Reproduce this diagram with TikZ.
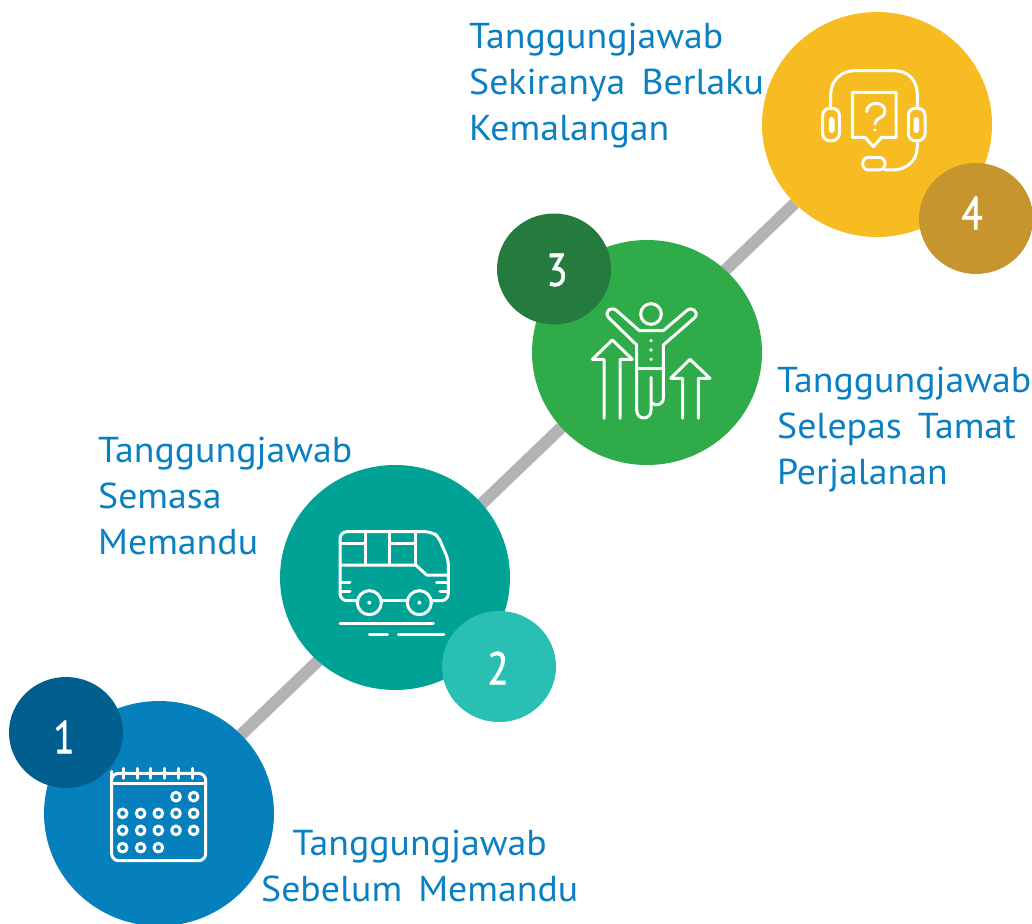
\documentclass[tikz,border=0pt]{standalone}
\usepackage{fontspec}
\usetikzlibrary{shapes.geometric,backgrounds}
\setmainfont[FakeStretch=1.05,WordSpace=1.6]{PT Sans}
\newfontfamily\numfont[FakeStretch=0.85,FakeBold=1.2]{PT Sans}
\definecolor{txtblue}{HTML}{0A7FC2}
\definecolor{cA}{HTML}{0680BC}\definecolor{bA}{HTML}{005F8F}
\definecolor{cB}{HTML}{00A295}\definecolor{bB}{HTML}{2ABFB3}
\definecolor{cC}{HTML}{2FAB4A}\definecolor{bC}{HTML}{257B3D}
\definecolor{cD}{HTML}{F6BC22}\definecolor{bD}{HTML}{C6952D}
\definecolor{linkgray}{HTML}{B3B3B3}
\tikzset{
  bigcirc/.style={ellipse,inner sep=0pt,minimum width=230pt,minimum height=225pt,fill=#1},
  badge/.style={ellipse,inner sep=0pt,minimum width=114pt,minimum height=111pt,fill=#1},
  numtext/.style={inner sep=0pt,text=white,font=\numfont\fontsize{46}{46}\selectfont},
  label/.style={inner sep=0pt,anchor=north west,align=left,text=txtblue,font=\fontsize{36}{46}\selectfont},
  link/.style={draw=linkgray,line width=12pt},
  ico/.style={draw=white,line width=3pt,line cap=round,line join=round},
  dotw/.style={fill=white,draw=none},
  iconbox/.style={x=0.3333pt,y=-0.3333pt}
}
\begin{document}
\begin{tikzpicture}[x=1pt,y=-1pt]
\useasboundingbox (0,0) rectangle (1032,923);
\clip (0,0) rectangle (1032,923);
\node[bigcirc=cA] (c1) at (159,813.5) {};
\node[bigcirc=cB] (c2) at (395,577.5) {};
\node[bigcirc=cC] (c3) at (647,352.5) {};
\node[bigcirc=cD] (c4) at (877,124.5) {};
\begin{scope}[on background layer]
\draw[link] (c1) -- (c4);
\end{scope}
\node[badge=bA] (b1) at (66,732.5) {};
\node[badge=bB] (b2) at (499,666.5) {};
\node[badge=bC] (b3) at (554,269) {};
\node[badge=bD] (b4) at (976,218.5) {};
\node[numtext] (n1) at (64,737) {1};
\node[numtext] (n2) at (498,668) {2};
\node[numtext] (n3) at (557,270) {3};
\node[numtext] (n4) at (972,213) {4};
\node[label] (t4) at (469,23) {Tanggungjawab\\Sekiranya Berlaku\\Kemalangan};
\node[label] (t3) at (777,367) {Tanggungjawab\\Selepas Tamat\\Perjalanan};
\node[label] (t2) at (98,437) {Tanggungjawab\\Semasa\\Memandu};
\node[label,align=center] (t1) at (261,830) {Tanggungjawab\\Sebelum Memandu};
% calendar
\begin{scope}[shift={(90,750)},iconbox]
\draw[ico] (65,85) [rounded corners=7pt] -- (65,70) -- (347,70) -- (347,332) -- (65,332) -- cycle;
\draw[ico] (65,100) -- (347,100);
\foreach \x in {100,142,183,225,267,308} \draw[ico] (\x,55) -- (\x,85);
\foreach \x in {258,311} \draw[ico] (\x,140) circle (13);
\foreach \x in {98,152,205,258,311} {\draw[ico] (\x,190) circle (13); \draw[ico] (\x,241) circle (13);}
\foreach \x in {98,152,205} \draw[ico] (\x,293) circle (13);
\end{scope}
% bus
\begin{scope}[shift={(320,510)},iconbox]
\draw[ico] (110,272) [rounded corners=7pt] -- (60,272) -- (60,65) -- (335,65) [rounded corners=5pt] -- (355,80) -- (385,150) [rounded corners=7pt] -- (385,272) -- (335,272);
\draw[ico] (185,272) -- (262,272);
\foreach \x in {148,298} {\draw[ico] (\x,278) circle (36); \fill[dotw] (\x,278) circle (6);}
\draw[ico] (135,65) -- (135,165) (210,65) -- (210,165) (287,65) -- (287,165);
\draw[ico] (60,100) -- (135,100) (210,100) -- (287,100);
\draw[ico] (60,165) -- (287,165) -- (320,195) -- (385,195);
\draw[ico] (60,218) -- (90,218) (60,245) -- (90,245) (350,218) -- (385,218) (360,245) -- (385,245);
\draw[ico] (60,340) -- (340,340) (148,375) -- (202,375) (235,375) -- (372,375);
\end{scope}
% person
\begin{scope}[shift={(580,290)},iconbox]
\draw[ico] (213,72) circle (31);
\draw[ico] (170,235) -- (170,165) -- (85,82) .. controls (72,62) and (95,48) .. (110,62) -- (178,122) -- (250,122) -- (320,62) .. controls (335,48) and (358,65) .. (345,82) -- (250,165) -- (250,325) .. controls (250,345) and (225,350) .. (214,338);
\draw[ico] (170,235) -- (250,235);
\draw[ico] (170,235) -- (170,360) .. controls (170,392) and (213,392) .. (213,360) -- (213,262);
\foreach \y in {152,180,208} \fill[dotw] (213,\y) circle (5.5);
\draw[ico] (72,385) -- (72,208) -- (37,208) -- (97,150) -- (157,208) -- (120,208) -- (120,385);
\draw[ico] (308,385) -- (308,265) -- (272,265) -- (330,208) -- (390,265) -- (355,265) -- (355,385);
\end{scope}
% headset
\begin{scope}[shift={(810,60)},iconbox]
\draw[ico] (62,145) -- (62,105) .. controls (62,60) and (95,32) .. (135,32) -- (250,32) .. controls (295,32) and (322,60) .. (322,105) -- (322,145);
\draw[ico,rounded corners=7pt] (38,145) rectangle (88,242);
\draw[ico,rounded corners=7pt] (295,145) rectangle (345,242);
\draw[ico,rounded corners=1.5pt] (61,175) rectangle (69,215);
\draw[ico,rounded corners=1.5pt] (315,175) rectangle (323,215);
\draw[ico] (322,242) -- (322,260) .. controls (322,305) and (285,330) .. (250,330) -- (225,330);
\draw[ico,rounded corners=6pt] (158,292) rectangle (225,330);
\draw[ico] (127,97) -- (258,97) -- (258,232) -- (215,232) -- (190,260) -- (165,232) -- (127,232) -- cycle;
\draw[ico] (170,155) .. controls (172,122) and (225,122) .. (225,155) .. controls (225,175) and (195,172) .. (195,192);
\fill[dotw] (195,210) circle (5);
\end{scope}
\end{tikzpicture}
\end{document}
